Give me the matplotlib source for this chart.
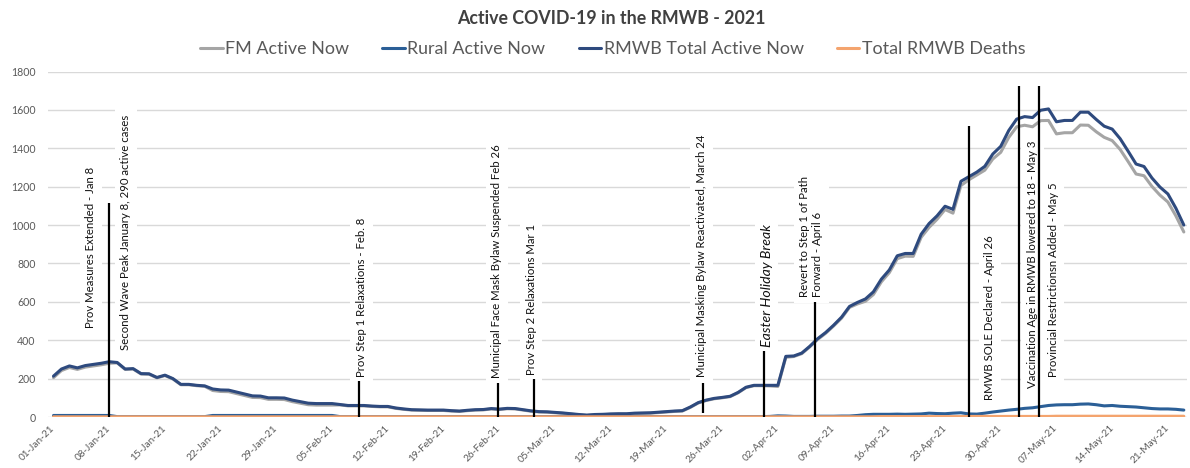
import matplotlib
matplotlib.use("Agg")
import matplotlib.pyplot as plt

# ---------------- data (one value per day, 01-Jan-21 .. 23-May-21) ----------------
total_active = [213, 250, 266, 256, 268, 274, 280, 288, 284, 250, 252, 226, 225, 206, 218, 200,
                170, 170, 165, 162, 146, 141, 140, 130, 120, 110, 109, 100, 100, 99, 88, 80,
                72, 70, 70, 70, 65, 60, 60, 60, 57, 55, 55, 47, 42, 38, 37, 36, 36, 36, 33,
                31, 35, 38, 39, 44, 41, 45, 44, 38, 32, 28, 27, 24, 21, 17, 13, 10, 13, 14,
                16, 17, 17, 20, 21, 22, 25, 28, 31, 33, 52, 75, 88, 97, 102, 108, 128, 155,
                165, 165, 165, 165, 316, 318, 333, 368, 408, 440, 478, 520, 576, 597, 615,
                652, 718, 766, 840, 852, 852, 952, 1008, 1048, 1098, 1082, 1228, 1252, 1276,
                1306, 1370, 1410, 1492, 1552, 1565, 1560, 1598, 1605, 1538, 1545, 1545, 1588,
                1588, 1550, 1515, 1500, 1450, 1385, 1318, 1305, 1245, 1198, 1162, 1088, 1000]

fm_active = [205, 242, 258, 248, 260, 266, 272, 280, 282, 248, 250, 224, 223, 204, 216, 198,
             168, 168, 163, 160, 138, 133, 132, 122, 112, 102, 101, 92, 92, 91, 80, 72,
             64, 62, 62, 62, 63, 58, 58, 58, 55, 53, 53, 45, 40, 36, 35, 34, 34, 34, 31,
             29, 33, 36, 37, 42, 39, 43, 42, 36, 30, 26, 25, 22, 19, 15, 11, 8, 11, 12,
             14, 15, 15, 18, 19, 20, 23, 26, 29, 31, 50, 73, 86, 95, 100, 106, 126, 153,
             163, 163, 162, 159, 311, 315, 330, 365, 404, 436, 474, 515, 571, 589, 603,
             638, 704, 752, 825, 838, 837, 936, 988, 1030, 1081, 1062, 1206, 1236, 1261,
             1286, 1344, 1379, 1456, 1512, 1520, 1512, 1544, 1545, 1475, 1481, 1481, 1521,
             1520, 1486, 1457, 1440, 1394, 1331, 1266, 1257, 1201, 1156, 1120, 1048, 964]

rural_active = [8, 8, 8, 8, 8, 8, 8, 8, 2, 2, 2, 2, 2, 2, 2, 2,
                2, 2, 2, 2, 8, 8, 8, 8, 8, 8, 8, 8, 8, 8, 8, 8,
                8, 8, 8, 8, 2, 2, 2, 2, 2, 2, 2, 2, 2, 2, 2, 2, 2, 2, 2,
                2, 2, 2, 2, 2, 2, 2, 2, 2, 2, 2, 2, 2, 2, 2, 2, 2, 2, 2,
                2, 2, 2, 2, 2, 2, 2, 2, 2, 2, 2, 2, 2, 2, 2, 2, 2, 2,
                2, 2, 3, 6, 5, 3, 3, 3, 4, 4, 4, 5, 5, 8, 12,
                14, 14, 14, 15, 14, 15, 16, 20, 18, 17, 20, 22, 16, 15,
                20, 26, 31, 36, 40, 45, 48, 54, 60, 63, 64, 64, 67,
                68, 64, 58, 60, 56, 54, 52, 48, 44, 42, 42, 40, 36]

total_deaths = [1, 1, 1, 1, 1, 1, 1, 1, 1, 1, 1, 1, 1, 1, 1, 1,
                1, 1, 1, 1, 1, 1, 1, 1, 1, 1, 1, 1, 1, 1, 1, 1,
                1, 1, 1, 1, 1, 1, 1, 1, 1, 1, 1, 1, 1, 1, 1, 1, 1, 1, 1,
                1, 1, 1, 1, 1, 1, 1, 1, 1, 1, 1, 1, 1, 1, 1, 1, 1, 1, 1,
                1, 1, 1, 1, 1, 1, 1, 1, 1, 1, 1, 1, 1, 1, 1, 1, 1, 1,
                1, 1, 1, 1, 1, 1, 1, 1, 1, 1, 1, 1, 1, 1, 1,
                1, 2, 2, 2, 2, 2, 2, 2, 2, 2, 2, 2, 3, 3,
                3, 3, 3, 3, 3, 3, 3, 3, 3, 4, 4, 4, 4,
                4, 4, 4, 4, 4, 4, 4, 4, 4, 4, 4, 4, 4]

series_names = ["FM Active Now", "Rural Active Now", "RMWB Total Active Now", "Total RMWB Deaths"]

tick_labels = ["01-Jan-21", "08-Jan-21", "15-Jan-21", "22-Jan-21", "29-Jan-21", "05-Feb-21",
               "12-Feb-21", "19-Feb-21", "26-Feb-21", "05-Mar-21", "12-Mar-21", "19-Mar-21",
               "26-Mar-21", "02-Apr-21", "09-Apr-21", "16-Apr-21", "23-Apr-21", "30-Apr-21",
               "07-May-21", "14-May-21", "21-May-21"]

# annotations: text, day (x of the marker line), top of marker line
annot_texts = ["Prov Measures Extended - Jan 8",
               "Second Wave Peak January 8, 290 active cases",
               "Prov Step 1 Relaxations - Feb. 8",
               "Municipal Face Mask Bylaw Suspended Feb 26",
               "Prov Step 2 Relaxations Mar 1",
               "Municipal Masking Bylaw Reactivated, March 24",
               "Easter Holiday Break",
               "Revert to Step 1 of Path\nForward - April 6",
               "RMWB SOLE Declared - April 26",
               "Vaccination Age in RMWB lowered to 18 - May 3",
               "Provincial Restrictionsn Added - May 5"]
marker_days = [7, 38.4, 55.9, 60.4, 81.6, 89.3, 95.7, 115.0, 121.3, 123.8]
marker_tops = [1115, 187, 175, 198, 178, 345, 600, 1514, 1727, 1727]

# ---------------- layout / style ----------------
# text anchor positions (x in days, y bottom of text), one per annotation text
text_pos = [(4.7, 463), (9.1, 349), (38.7, 208), (55.7, 203), (60.0, 218), (81.4, 208),
            (89.6, 364), (95.2, 624), (117.6, 88), (123.0, 151), (125.6, 208)]
marker_bottoms = [0, 0, 0, 0, 20, 0, 0, 0, 0, 0]

FONT = ["Lato", "DejaVu Sans"]
plt.rcParams["font.family"] = FONT

c_fm = "#A5A5A5"
c_rural = "#2B5F97"
c_total = "#2E4A7E"
c_death = "#F4A46E"
c_text = "#595959"

W, H = 1190, 468
fig = plt.figure(figsize=(W / 100, H / 100), dpi=100)
ax_left, ax_right, ax_top, ax_bot = 48, 1187, 71.5, 417
ax = fig.add_axes([ax_left / W, 1 - ax_bot / H, (ax_right - ax_left) / W, (ax_bot - ax_top) / H])

days = list(range(len(total_active)))
lw = 2.2
l1, = ax.plot(days, fm_active, color=c_fm, lw=lw, zorder=2, solid_capstyle="round")
l2, = ax.plot(days, rural_active, color=c_rural, lw=lw, zorder=2.1, solid_capstyle="round")
l3, = ax.plot(days, total_active, color=c_total, lw=lw, zorder=2.2, solid_capstyle="round")
l4, = ax.plot(days, total_deaths, color=c_death, lw=lw, zorder=2.3, solid_capstyle="round")

px_per_day = 7.96
x0 = 53.5
ax.set_xlim((ax_left - x0) / px_per_day, (ax_right - x0) / px_per_day)
ax.set_ylim(0, 1800)
ax.set_yticks(range(0, 1801, 200))
ax.set_xticks(range(0, 7 * len(tick_labels), 7))
ax.set_xticklabels(tick_labels, rotation=45, ha="right", va="center",
                   rotation_mode="anchor", fontsize=7.2, color=c_text)
ax.tick_params(axis="x", length=0, pad=7)
ax.tick_params(axis="y", length=0, pad=9, labelsize=7.6, labelcolor=c_text)
ax.grid(axis="y", color="#D9D9D9", lw=1.0, zorder=0)
ax.set_axisbelow(True)
for s in ax.spines.values():
    s.set_visible(False)

# marker lines
for d, b, t in zip(marker_days, marker_bottoms, marker_tops):
    ax.plot([d, d], [b, t], color="black", lw=1.6, zorder=5, solid_capstyle="butt")

# annotation texts
for txt, (tx, ty) in zip(annot_texts, text_pos):
    kw = dict(fontsize=8.2, color="#111111")
    if txt.startswith("Easter"):
        kw = dict(fontsize=10.2, color="#111111", style="italic")
    ax.text(tx, ty, txt, rotation=90, ha="center", va="bottom", multialignment="left",
            linespacing=1.25, zorder=4,
            bbox=dict(facecolor="white", edgecolor="none", pad=4), **kw)

fig.text(0.514, 0.961, "Active COVID-19 in the RMWB - 2021", ha="center", va="center",
         fontsize=12.8, fontweight="bold", color="#404040")

leg = fig.legend([l1, l2, l3, l4], series_names, loc="center", bbox_to_anchor=(0.515, 0.895),
                 ncol=4, frameon=False, fontsize=12.9, handlelength=1.25, handletextpad=0.15,
                 columnspacing=1.85)
for t in leg.get_texts():
    t.set_color(c_text)

fig.savefig("out.png", dpi=100)
